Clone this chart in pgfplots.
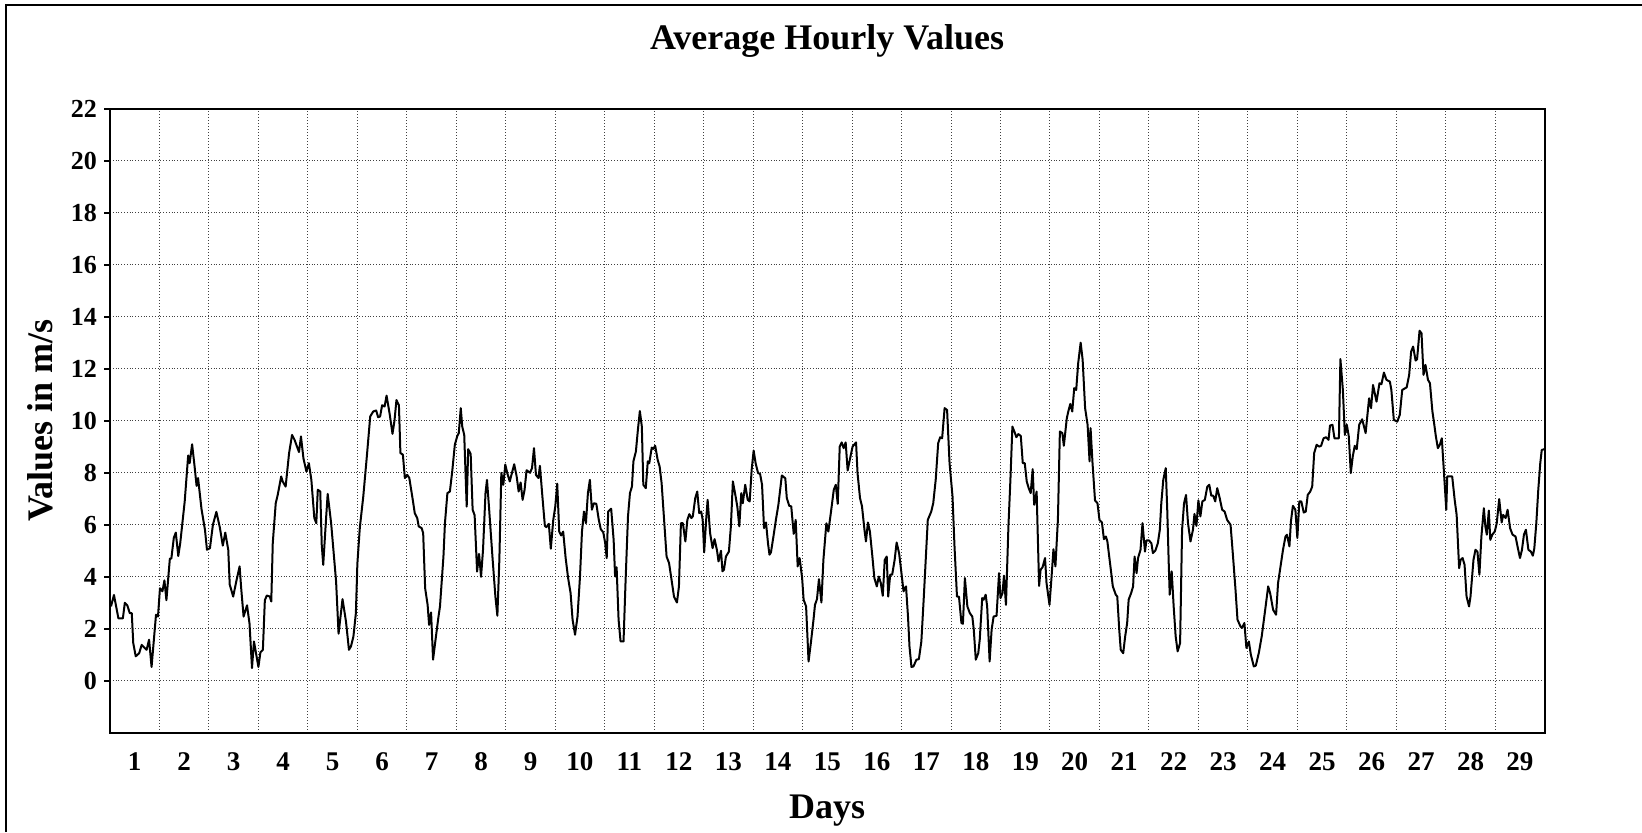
\documentclass[border=0pt]{standalone}
\usepackage{fontspec}
\setmainfont{Liberation Serif}
\usepackage{pgfplots}
\pgfplotsset{compat=1.18}
\begin{document}
\begin{tikzpicture}[x=1pt,y=1pt]
\path[use as bounding box] (0,0) rectangle (821,416);
\draw[line width=1pt] (3,0) -- (3,413.5) -- (821,413.5);
\begin{axis}[
  at={(55pt,49.65pt)}, anchor=south west,
  scale only axis, width=717.35pt, height=311.85pt,
  xmin=0, xmax=29, ymin=-2, ymax=22,
  axis line style={line width=1pt},
  xtick={0.5,1.5,2.5,3.5,4.5,5.5,6.5,7.5,8.5,9.5,10.5,11.5,12.5,13.5,14.5,15.5,16.5,17.5,18.5,19.5,20.5,21.5,22.5,23.5,24.5,25.5,26.5,27.5,28.5},
  xticklabels={1,2,3,4,5,6,7,8,9,10,11,12,13,14,15,16,17,18,19,20,21,22,23,24,25,26,27,28,29},
  minor xtick={1,2,...,28},
  xminorgrids=true, xmajorgrids=false,
  ytick={0,2,...,22},
  ymajorgrids=true,
  ytick pos=left, xtick pos=bottom,
  grid style={densely dotted, line width=0.5pt, black!75},
  minor grid style={densely dotted, line width=0.5pt, black!75},
  xtick style={draw=none},
  minor tick length=0pt,
  ytick style={line width=1pt, black},
  tick align=outside,
  major tick length=3pt,
  /pgf/number format/assume math mode=true,
  xticklabel style={font=\fontsize{13.5}{14}\selectfont\bfseries, yshift=-3.5pt},
  yticklabel style={font=\fontsize{13}{14}\selectfont\bfseries},
  clip=true,
]
\addplot[black, line width=1pt, line join=round] coordinates {
(0.02,2.86)(0.08,3.3)(0.17,2.4)(0.26,2.4)(0.30,3.0)(0.35,2.9)(0.40,2.6)(0.44,2.6)(0.47,1.45)(0.52,0.94)
(0.59,1.06)(0.64,1.38)(0.74,1.19)(0.79,1.58)(0.84,0.53)(0.93,2.54)(0.97,2.47)(1.01,3.56)(1.06,3.44)(1.10,3.86)
(1.14,3.1)(1.21,4.7)(1.24,4.7)(1.29,5.5)(1.33,5.7)(1.38,4.8)(1.42,5.3)(1.51,6.9)(1.58,8.67)(1.61,8.37)
(1.66,9.1)(1.71,8.24)(1.75,7.5)(1.78,7.8)(1.85,6.6)(1.92,5.8)(1.96,5.04)(2.02,5.1)(2.08,6.0)(2.15,6.5)
(2.22,5.9)(2.28,5.2)(2.33,5.7)(2.39,5.04)(2.42,3.7)(2.49,3.24)(2.55,3.8)(2.62,4.4)(2.65,3.6)(2.70,2.47)
(2.77,2.9)(2.82,2.2)(2.87,0.49)(2.91,1.51)(3.00,0.53)(3.04,1.09)(3.09,1.19)(3.13,3.1)(3.17,3.28)(3.23,3.24)
(3.26,3.05)(3.29,5.3)(3.35,6.83)(3.39,7.15)(3.46,7.86)(3.49,7.67)(3.55,7.47)(3.62,8.76)(3.68,9.46)(3.73,9.27)
(3.82,8.8)(3.86,9.4)(3.91,8.56)(3.97,8.05)(4.02,8.37)(4.07,7.73)(4.13,6.26)(4.17,6.06)(4.20,7.35)(4.25,7.28)
(4.28,5.23)(4.31,4.46)(4.37,6.32)(4.40,7.19)(4.47,6.06)(4.57,3.82)(4.62,1.81)(4.70,3.14)(4.77,2.28)(4.83,1.19)
(4.87,1.32)(4.92,1.7)(4.97,2.6)
(5.00,4.5)(5.05,5.9)(5.12,7.1)(5.19,8.6)(5.26,10.17)(5.32,10.36)(5.38,10.4)(5.42,10.14)(5.46,10.17)(5.50,10.6)
(5.55,10.55)(5.59,10.97)(5.65,10.3)(5.71,9.5)(5.75,10.0)(5.79,10.8)(5.84,10.6)(5.87,8.76)(5.92,8.7)(5.96,7.8)
(6.01,7.92)(6.05,7.8)(6.12,6.96)(6.16,6.45)(6.21,6.26)(6.24,5.94)(6.30,5.87)(6.33,5.68)(6.37,3.56)(6.42,2.92)
(6.45,2.15)(6.49,2.63)(6.53,0.81)(6.58,1.58)(6.64,2.47)(6.67,2.86)(6.74,4.78)(6.77,6.06)(6.82,7.22)(6.87,7.28)
(6.92,8.1)(6.97,9.08)(7.02,9.42)(7.05,9.53)(7.09,10.49)(7.12,9.78)(7.16,9.46)(7.21,6.7)(7.24,8.91)(7.29,8.73)
(7.33,6.58)(7.37,6.37)(7.42,4.2)(7.46,4.88)(7.50,4.0)(7.54,5.04)(7.59,7.22)(7.62,7.73)(7.66,6.7)(7.73,4.78)
(7.79,3.24)(7.83,2.5)(7.87,4.65)(7.91,8.0)(7.95,7.54)(7.99,8.32)(8.03,7.99)(8.08,7.67)(8.17,8.33)(8.22,7.86)
(8.26,7.28)(8.30,7.63)(8.34,6.96)(8.38,7.35)(8.42,8.1)(8.49,8.0)(8.53,8.18)(8.57,8.95)(8.61,7.92)(8.66,7.8)
(8.69,8.27)(8.74,7.09)(8.79,5.96)(8.82,5.91)(8.87,6.04)(8.91,5.08)(8.96,6.19)(9.00,6.7)(9.04,7.58)(9.08,5.74)
(9.12,5.59)(9.16,5.74)(9.21,4.72)(9.26,3.95)(9.31,3.37)(9.35,2.35)(9.40,1.77)(9.45,2.47)(9.50,4.01)(9.54,5.74)
(9.58,6.51)(9.62,6.06)(9.66,7.22)(9.70,7.73)(9.74,6.58)(9.78,6.83)(9.83,6.81)(9.88,6.19)(9.92,5.83)(9.97,5.71)
(10.01,5.29)
(10.04,4.72)(10.07,6.51)(10.13,6.62)(10.18,5.42)(10.21,4.01)(10.24,4.37)(10.28,2.35)(10.32,1.51)(10.38,1.51)(10.42,3.76)
(10.47,6.32)(10.51,7.22)(10.55,7.47)(10.58,8.44)(10.63,8.82)(10.67,9.65)(10.71,10.38)(10.75,9.78)(10.78,7.54)(10.83,7.41)
(10.87,8.44)(10.90,8.37)(10.95,8.97)(10.98,8.92)(11.02,9.04)(11.07,8.5)(11.11,8.24)(11.15,7.6)(11.20,6.19)(11.25,4.78)
(11.30,4.53)(11.36,3.76)(11.40,3.24)(11.46,3.01)(11.50,3.63)(11.54,6.06)(11.58,6.06)(11.63,5.36)(11.67,6.19)(11.71,6.41)
(11.75,6.26)(11.78,6.32)(11.83,7.03)(11.87,7.28)(11.91,6.45)(11.95,6.51)(11.98,6.19)(12.01,4.94)(12.05,6.19)(12.08,6.96)
(12.13,5.68)(12.18,5.1)(12.22,5.45)(12.27,5.01)(12.30,4.59)(12.35,5.0)(12.38,4.21)(12.41,4.27)(12.45,4.78)(12.51,4.97)
(12.55,5.94)(12.59,7.67)(12.64,7.15)(12.68,6.7)(12.72,5.94)(12.76,7.22)(12.79,6.83)(12.84,7.54)(12.89,6.96)(12.93,6.9)
(12.97,8.12)(13.01,8.86)(13.05,8.37)(13.10,7.99)(13.14,7.96)(13.18,7.54)(13.22,5.87)(13.26,6.09)(13.30,5.29)(13.33,4.85)
(13.36,4.94)(13.41,5.55)(13.46,6.19)(13.51,6.77)(13.58,7.9)(13.65,7.79)(13.68,7.03)(13.73,6.73)(13.77,6.71)(13.82,5.65)
(13.86,6.19)(13.90,4.4)(13.94,4.72)(13.99,3.95)(14.02,3.12)(14.07,2.86)(14.12,0.74)(14.17,1.51)(14.22,2.35)(14.25,2.92)
(14.29,3.14)(14.33,3.91)(14.38,3.01)(14.42,4.65)(14.48,6.06)(14.52,5.74)(14.57,6.45)(14.63,7.35)(14.67,7.54)(14.71,6.81)
(14.75,9.01)(14.79,9.17)(14.83,8.95)(14.87,9.17)(14.91,8.09)(14.96,8.56)(15.01,9.01)(15.08,9.17)
(15.11,7.99)(15.16,7.03)(15.20,6.71)(15.25,5.81)(15.28,5.36)(15.32,6.09)(15.36,5.74)(15.41,4.78)(15.45,3.95)(15.50,3.63)
(15.54,4.01)(15.58,3.76)(15.62,3.27)(15.66,4.65)(15.70,4.78)(15.73,3.24)(15.77,4.08)(15.81,4.08)(15.86,4.65)(15.90,5.32)
(15.95,4.91)(15.99,4.27)(16.04,3.44)(16.09,3.63)(16.13,2.47)(16.16,1.32)(16.20,0.53)(16.24,0.55)(16.30,0.81)(16.35,0.83)
(16.40,1.51)(16.45,3.24)(16.49,4.72)(16.53,6.19)(16.60,6.51)(16.64,6.83)(16.69,7.73)(16.74,9.14)(16.78,9.37)(16.82,9.33)
(16.87,10.49)(16.92,10.42)(16.97,8.37)(17.03,7.09)(17.07,5.17)(17.12,3.24)(17.16,3.24)(17.21,2.22)(17.24,2.19)(17.28,3.95)
(17.33,2.86)(17.38,2.6)(17.43,2.47)(17.46,1.96)(17.50,0.81)(17.55,1.06)(17.58,1.58)(17.63,3.18)(17.66,3.12)(17.70,3.31)
(17.73,2.86)(17.78,0.74)(17.82,1.96)(17.86,2.47)(17.92,2.5)(17.97,4.14)(18.00,3.18)(18.04,3.37)(18.07,4.04)(18.11,2.92)
(18.16,5.94)(18.20,7.73)(18.24,9.78)(18.28,9.59)(18.32,9.37)(18.36,9.49)(18.41,9.42)(18.45,8.37)(18.49,8.37)(18.53,7.67)
(18.57,7.41)(18.61,7.22)(18.65,8.14)(18.68,6.77)(18.73,7.28)(18.78,3.65)(18.81,4.27)(18.85,4.37)(18.90,4.72)(18.93,3.76)
(18.99,2.92)(19.03,3.95)(19.07,5.06)(19.11,4.4)(19.16,6.19)(19.20,9.59)(19.25,9.53)(19.28,9.04)(19.34,10.1)(19.37,10.36)
(19.41,10.65)(19.45,10.36)(19.49,11.26)(19.53,11.19)(19.57,12.22)(19.62,13.01)(19.66,12.35)(19.71,10.49)(19.76,9.85)(19.80,8.44)
(19.82,9.72)(19.86,8.37)(19.91,6.94)(19.96,6.83)(20.00,6.19)(20.05,6.09)(20.09,5.45)(20.13,5.55)(20.16,5.36)
(20.23,4.27)(20.27,3.63)(20.33,3.31)(20.36,3.24)(20.40,1.96)(20.43,1.19)(20.48,1.06)(20.52,1.71)(20.56,2.22)(20.59,3.12)
(20.64,3.37)(20.68,3.63)(20.71,4.78)(20.75,4.14)(20.78,4.72)(20.83,5.04)(20.87,6.06)(20.92,4.97)(20.95,5.4)(21.00,5.4)
(21.05,5.29)(21.08,4.91)(21.13,5.01)(21.18,5.29)(21.22,5.81)(21.25,6.83)(21.29,7.73)(21.34,8.18)(21.37,6.58)(21.40,4.53)
(21.42,3.31)(21.46,4.21)(21.50,2.86)(21.54,1.71)(21.58,1.13)(21.63,1.45)(21.67,5.81)(21.71,6.83)(21.75,7.15)(21.79,6.06)
(21.84,5.36)(21.89,5.81)(21.92,6.42)(21.96,5.96)(22.00,6.94)(22.04,6.32)(22.08,6.9)(22.13,6.96)(22.18,7.47)(22.22,7.54)
(22.26,7.12)(22.30,7.12)(22.34,6.9)(22.38,7.41)(22.43,7.03)(22.48,6.58)(22.53,6.51)(22.58,6.19)(22.65,6.0)(22.70,4.78)
(22.75,3.5)(22.79,2.35)(22.85,2.09)(22.88,2.03)(22.93,2.22)(22.97,1.26)(23.02,1.51)(23.06,1.0)(23.12,0.55)(23.16,0.58)
(23.22,1.06)(23.28,1.71)(23.35,2.73)(23.41,3.63)(23.45,3.37)(23.51,2.73)(23.57,2.54)(23.61,3.76)(23.65,4.27)(23.71,5.04)
(23.76,5.55)(23.79,5.62)(23.84,5.17)(23.87,6.13)(23.91,6.73)(23.96,6.58)(24.00,5.49)(24.04,6.9)(24.08,6.9)(24.13,6.47)
(24.17,6.51)(24.21,7.15)(24.26,7.28)(24.30,7.47)(24.34,8.76)(24.39,9.08)(24.44,9.01)(24.48,9.04)(24.53,9.33)(24.58,9.37)
(24.63,9.27)(24.66,9.82)(24.71,9.85)(24.75,9.33)(24.80,9.33)(24.84,9.33)(24.87,12.38)(24.92,11.19)(24.96,9.46)(25.00,9.85)
(25.04,9.4)(25.08,7.99)(25.12,8.63)(25.16,9.04)(25.20,8.91)(25.25,9.85)
(25.31,10.06)(25.38,9.53)(25.45,10.87)(25.49,10.49)(25.53,11.38)(25.60,10.74)(25.66,11.45)(25.70,11.41)(25.75,11.86)(25.80,11.58)
(25.87,11.51)(25.90,11.19)(25.95,10.04)(26.02,9.97)(26.07,10.23)(26.12,11.19)(26.21,11.29)(26.26,11.77)(26.30,12.67)(26.34,12.86)
(26.39,12.32)(26.42,12.37)(26.47,13.47)(26.51,13.37)(26.55,11.77)(26.59,12.15)(26.64,11.58)(26.68,11.45)(26.73,10.36)(26.76,9.97)
(26.80,9.4)(26.84,8.95)(26.88,9.08)(26.92,9.33)(26.96,8.12)(27.01,6.58)(27.03,7.86)(27.08,7.86)(27.13,7.86)(27.18,6.96)
(27.22,6.38)(27.27,4.33)(27.30,4.65)(27.34,4.72)(27.38,4.46)(27.42,3.24)(27.47,2.86)(27.50,3.24)(27.56,4.65)(27.60,5.04)
(27.64,4.97)(27.68,4.08)(27.72,5.55)(27.77,6.64)(27.80,5.94)(27.83,5.62)(27.87,6.55)(27.90,5.42)(27.94,5.62)(27.99,5.74)
(28.03,6.06)(28.08,6.99)(28.13,6.09)(28.16,6.38)(28.21,6.26)(28.25,6.58)(28.30,5.87)(28.35,5.62)(28.41,5.55)(28.45,5.17)
(28.50,4.72)(28.54,5.04)(28.58,5.62)(28.62,5.81)(28.67,5.04)(28.72,4.97)(28.76,4.81)(28.79,5.1)(28.83,6.06)(28.87,7.35)
(28.91,8.37)(28.94,8.88)(28.99,8.91)(29.0,8.91)
};
\end{axis}
\node[anchor=base, font=\fontsize{18}{20}\selectfont\bfseries] at (413.5,391) {Average Hourly Values};
\node[anchor=base, font=\fontsize{18}{20}\selectfont\bfseries] at (413.5,7) {Days};
\node[anchor=base, rotate=90, font=\fontsize{18}{20}\selectfont\bfseries] at (26,205.75) {Values in m/s};
\end{tikzpicture}
\end{document}
